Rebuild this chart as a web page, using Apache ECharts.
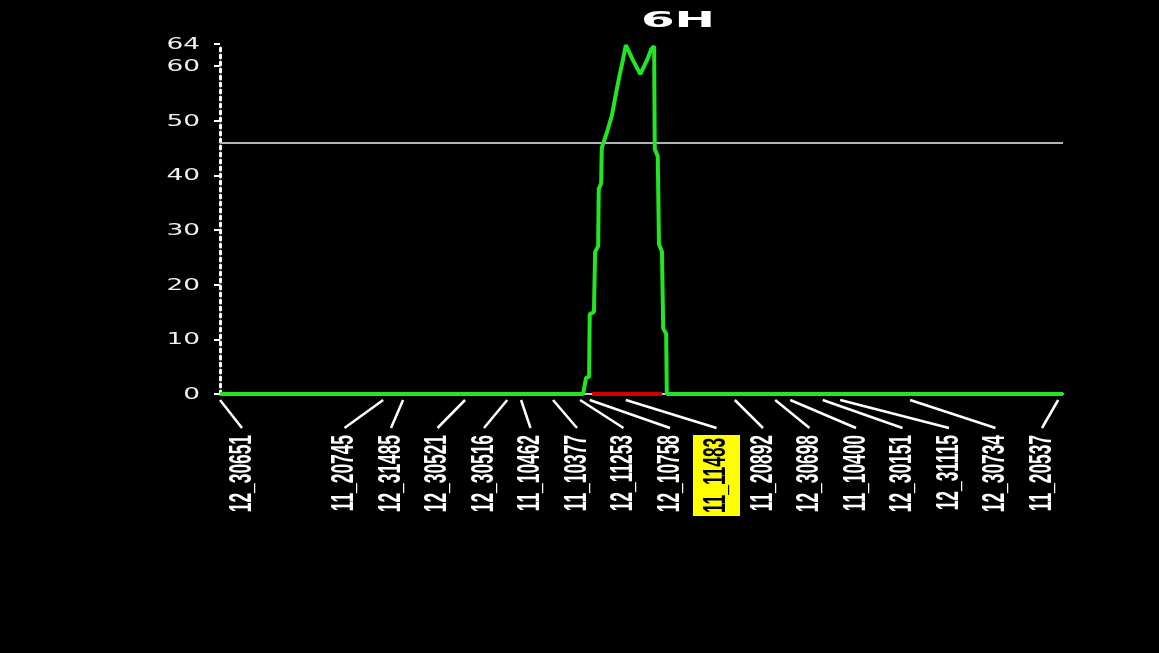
<!DOCTYPE html>
<html>
<head>
<meta charset="utf-8">
<title>6H</title>
<style>
  html, body { margin: 0; padding: 0; background: #000; }
  #chart { width: 1159px; height: 653px; }
</style>
<script src="https://cdn.jsdelivr.net/npm/echarts@6/dist/echarts.min.js"></script>
</head>
<body>
<div id="chart"></div>
<script>
// Linkage group title
const chromName = '6H';
// Chromosome length (cM)
const chromLength = 140;

// Marker names and their map positions (cM)
const markerNames = ['12_30651', '11_20745', '12_31485', '12_30521', '12_30516', '11_10462',
  '11_10377', '12_11253', '12_10758', '11_11483', '11_20892', '12_30698', '11_10400',
  '12_30151', '12_31115', '12_30734', '11_20537'];
const markerPos = [0, 27.1, 30.4, 40.7, 47.7, 50.0, 55.3, 59.8, 61.4, 67.4, 85.5, 92.2,
  94.7, 100.1, 103.0, 114.6, 139.2];
// Marker nearest the LOD peak
const peakMarker = '11_11483';

// LOD profile along the chromosome
const lodPos = [0, 60.3, 60.8, 61.3, 61.4, 62.1, 62.3, 62.8, 62.9, 63.3, 63.4, 64.3, 65.1,
  65.6, 66.3, 66.9, 67.4, 68.6, 69.8, 70.9, 71.6, 72.1, 72.2, 72.7, 72.9, 73.4, 73.6, 74.1,
  74.2, 140];
const lodVal = [0, 0, 3, 3.1, 14.6, 15, 26, 27, 37.5, 38.5, 45, 48, 51, 54, 58, 61, 63.8,
  61, 58.5, 61, 63, 63.6, 44.8, 43.5, 27.4, 26, 12, 11, 0, 0];

// QTL support interval (cM)
const supportInterval = [61.8, 73.4];
// Significance threshold (LOD)
const lodThreshold = 45.9;
// LOD axis ticks
const yTicks = [0, 10, 20, 30, 40, 50, 60, 64];
const yMax = 64;

// Spread label slots so neighbouring labels keep a minimum gap
function layoutSlots(xs, lo, hi, gap) {
  const n = xs.length;
  const p = xs.slice();
  p[0] = Math.max(p[0], lo);
  for (let i = 1; i < n; i++) p[i] = Math.max(p[i], p[i - 1] + gap);
  p[n - 1] = Math.min(p[n - 1], hi);
  for (let i = n - 2; i >= 0; i--) p[i] = Math.min(p[i], p[i + 1] - gap);
  return p;
}

const chart = echarts.init(document.getElementById('chart'));

const option = {
  backgroundColor: '#000',
  animation: false,
  grid: { left: 220, right: 96, top: 44, bottom: 259 },
  xAxis: {
    type: 'value', min: 0, max: chromLength, offset: 6,
    axisLine: { show: true, lineStyle: { color: '#c8c8c8', width: 2 } },
    axisTick: { show: false }, axisLabel: { show: false }, splitLine: { show: false }
  },
  yAxis: {
    type: 'value', min: 0, max: yMax,
    axisLine: { show: true, lineStyle: { color: '#ffffff', width: 3, type: [3, 4] } },
    axisTick: { show: true, length: 6, customValues: yTicks, lineStyle: { color: '#ffffff', width: 2 } },
    axisLabel: { show: false }, splitLine: { show: false }
  },
  graphic: [{
    type: 'text', x: 678, y: 21, scaleX: 2.2,
    style: { text: chromName, fill: '#ffffff', font: 'bold 22px "DejaVu Sans"', align: 'center', verticalAlign: 'middle' }
  }],
  series: [
    {
      name: 'threshold', type: 'line', clip: false, symbol: 'none', silent: true, z: 1,
      data: [[0, lodThreshold], [chromLength, lodThreshold]],
      lineStyle: { color: '#b4b4b4', width: 2 }
    },
    {
      name: 'LOD', type: 'line', clip: false, symbol: 'none', silent: true, z: 2,
      data: lodPos.map((x, i) => [x, lodVal[i]]),
      lineStyle: { color: '#22e622', width: 4 }
    },
    {
      name: 'interval', type: 'line', clip: false, symbol: 'none', silent: true, z: 3,
      data: supportInterval.map(x => [x, 0]),
      lineStyle: { color: '#d00000', width: 4 }
    },
    {
      // LOD axis labels, drawn wide
      name: 'yLabels', type: 'custom', coordinateSystem: 'cartesian2d', silent: true,
      data: yTicks.map(v => [0, v]),
      encode: { x: 0, y: 1 },
      renderItem: (params, api) => {
        const v = api.value(1);
        const p = api.coord([0, v]);
        return {
          type: 'text', x: p[0] - 20, y: p[1] + 1, scaleX: 1.65,
          style: { text: String(v), fill: '#f0f0f0', font: '16px "DejaVu Sans"', align: 'right', verticalAlign: 'middle' }
        };
      }
    },
    {
      // Marker names with leader lines to their map positions
      name: 'markers', type: 'custom', coordinateSystem: 'cartesian2d', silent: true,
      data: markerPos.map((x, i) => ({ name: markerNames[i], value: [x, 0] })),
      encode: { x: 0, y: 1 },
      renderItem: (params, api) => {
        const i = params.dataIndex;
        const base = api.coord([0, 0]);
        const end = api.coord([chromLength, 0]);
        const xs = markerPos.map(v => api.coord([v, 0])[0]);
        const slots = layoutSlots(xs, base[0] + 22, end[0] - 21, 46.5);
        const y0 = base[1];
        const name = markerNames[i];
        const hl = name === peakMarker;
        const textStyle = {
          text: name, fill: hl ? '#000000' : '#ffffff',
          font: 'bold 31px "Liberation Sans", Arial, sans-serif',
          align: 'right', verticalAlign: 'middle', lineHeight: 31
        };
        if (hl) { textStyle.backgroundColor = '#ffff00'; textStyle.padding = [8, 5]; }
        return {
          type: 'group',
          children: [
            { type: 'line', shape: { x1: xs[i], y1: y0 + 6, x2: slots[i], y2: y0 + 34 },
              style: { stroke: '#ffffff', lineWidth: 2.5 } },
            { type: 'text', x: slots[i], y: y0 + 41, rotation: Math.PI / 2, scaleX: 0.56,
              style: textStyle }
          ]
        };
      }
    }
  ]
};

chart.setOption(option);
</script>
</body>
</html>
